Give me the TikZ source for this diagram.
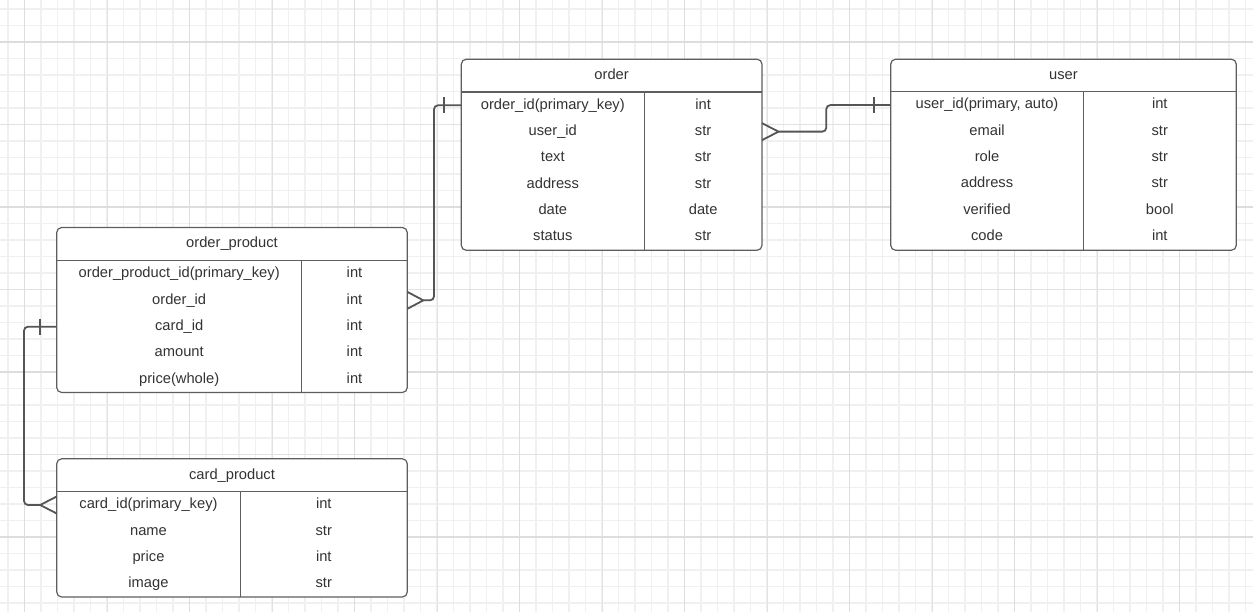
\documentclass[tikz,border=0pt]{standalone}
\usepackage{fontspec}
\setmainfont{Liberation Sans}
\definecolor{gminor}{HTML}{F0F0F0}
\definecolor{gmed}{HTML}{E2E2E2}
\definecolor{gmajor}{HTML}{DDDDDD}
\definecolor{boxc}{HTML}{5E5E5E}
\definecolor{txtc}{HTML}{333333}
\definecolor{connc}{HTML}{555555}
\tikzset{
  tbl/.style={draw=boxc, fill=white, rounded corners=5pt, line width=1.2pt, inner sep=0pt, outer sep=0pt},
  sepline/.style={draw=boxc, line width=1.2pt},
  cell/.style={text=txtc, font=\fontsize{14.7}{17}\selectfont, inner sep=0pt, anchor=base},
  conn/.style={draw=connc, line width=1.8pt},
  gridminor/.style={draw=gminor, line width=1.2pt},
  gridmed/.style={draw=gmed, line width=0.8pt},
  gridmajor/.style={draw=gmajor, line width=1.6pt}
}
\newcommand\ertable[9]{%
  \node[tbl, minimum width={(#4-#2)*1pt}, minimum height={(#5-#3)*1pt}] (#1) at ({(#2+#4)/2},{(#3+#5)/2}) {};
  \draw[sepline] (#2,#6) -- (#4,#6);
  \draw[sepline] (#7,#6) -- (#7,#5);
  \node[cell] (#1-title) at ({(#2+#4)/2},{(#3+#6)/2+3.8}) {#8};
  \foreach [count=\k] \a/\b in {#9} {
    \pgfmathsetmacro\yc{#6+13.3+26.35*(\k-1)}
    \coordinate (#1-L\k) at (#2,\yc);
    \coordinate (#1-R\k) at (#4,\yc);
    \node[cell] (#1-\k a) at ({(#2+#7)/2},{\yc+3.8}) {\a};
    \node[cell] (#1-\k b) at ({(#7+#4)/2},{\yc+3.8}) {\b};
  }
}
\begin{document}
\begin{tikzpicture}[x=1pt,y=-1pt]
\useasboundingbox (0,0) rectangle (1253,612);
\fill[white] (0,0) rectangle (1253,612);
% grid
\foreach \i in {0,...,75} \draw[gridminor] ({8+16.5*\i},0) -- ++(0,612);
\foreach \j in {0,...,36} \draw[gridminor] (0,{9+16.5*\j}) -- ++(1253,0);
\foreach \i in {0,...,14} \draw[gridmed] ({24.5+82.5*\i},0) -- ++(0,612);
\foreach \j in {0,...,6} \draw[gridmed] (0,{42+82.5*\j}) -- ++(1253,0);
\foreach \i in {0,...,7} \draw[gridmajor] ({24.5+165*\i},0) -- ++(0,612);
\foreach \j in {0,...,3} \draw[gridmajor] (0,{42+165*\j}) -- ++(1253,0);
% tables
\ertable{order}{461.3}{59.2}{762}{250.3}{92}{644.3}{order}{order\_id(primary\_key)/int, user\_id/str, text/str, address/str, date/date, status/str}
\ertable{user}{890.7}{59.2}{1236.3}{250.3}{91.8}{1083.3}{user}{{user\_id(primary, auto)}/int, email/str, role/str, address/str, verified/bool, code/int}
\ertable{op}{56.7}{227.5}{407.3}{392.5}{260.7}{301.7}{order\_product}{order\_product\_id(primary\_key)/int, order\_id/int, card\_id/int, amount/int, price(whole)/int}
\ertable{cp}{56.7}{458.8}{407.3}{597}{491.7}{240.3}{card\_product}{card\_id(primary\_key)/int, name/str, price/int, image/str}
% order.order_id -- order_product.order_id
\draw[conn, rounded corners=4pt] (order-L1) -- ++(-27.3,0) |- ([xshift=16pt]op-R2);
\draw[conn] ([yshift=8.5pt]op-R2) -- ([xshift=16pt]op-R2) -- ([yshift=-8.5pt]op-R2);
\draw[conn] ([xshift=-17pt,yshift=8pt]order-L1) -- ([xshift=-17pt,yshift=-8pt]order-L1);
% order.user_id -- user.user_id
\draw[conn, rounded corners=4pt] ([xshift=16.5pt]order-R2) -- ++(47.8,0) |- (user-L1);
\draw[conn] ([yshift=8.5pt]order-R2) -- ([xshift=16.5pt]order-R2) -- ([yshift=-8.5pt]order-R2);
\draw[conn] ([xshift=-17pt,yshift=8pt]user-L1) -- ([xshift=-17pt,yshift=-8pt]user-L1);
% order_product.card_id -- card_product.card_id
\draw[conn, rounded corners=4pt] (op-L3) -- ++(-32.7,0) |- ([xshift=-16.5pt]cp-L1);
\draw[conn] ([yshift=8.5pt]cp-L1) -- ([xshift=-16.5pt]cp-L1) -- ([yshift=-8.5pt]cp-L1);
\draw[conn] ([xshift=-17pt,yshift=8pt]op-L3) -- ([xshift=-17pt,yshift=-8pt]op-L3);
\end{tikzpicture}
\end{document}
